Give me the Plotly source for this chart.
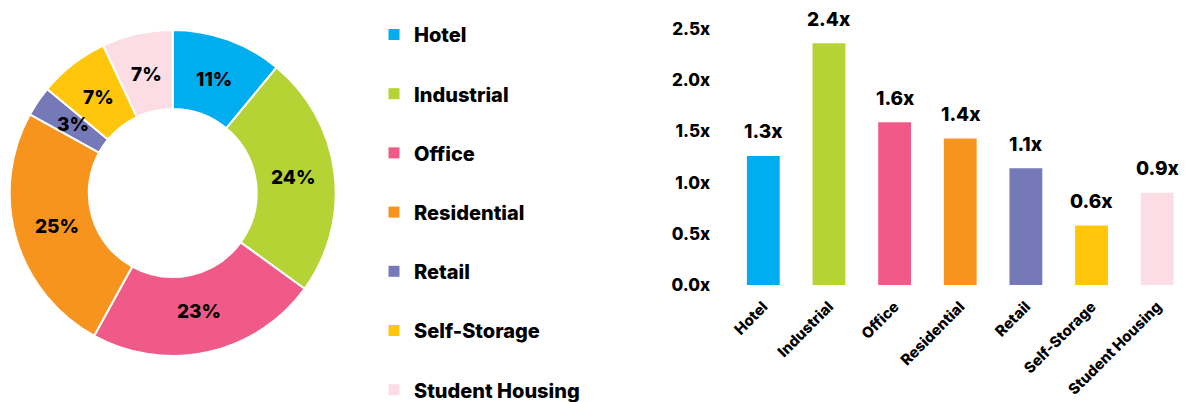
import math
import plotly.graph_objects as go

# Property sectors and their colours
sectors = ["Hotel", "Industrial", "Office", "Residential", "Retail",
           "Self-Storage", "Student Housing"]
colors = ["#00AEEF", "#B5D334", "#F05A88", "#F7941D", "#7679B8",
          "#FFC60B", "#FCDDE6"]

# Share of portfolio (%)
share_pct = [11, 24, 23, 25, 3, 7, 7]

# Multiple per sector
multiples = [1.26, 2.36, 1.59, 1.43, 1.14, 0.58, 0.90]

y_ticks = [0.0, 0.5, 1.0, 1.5, 2.0, 2.5]
y_tick_text = [f"{v:.1f}x" for v in y_ticks]

FONT = "Inter"
W = 800
FIG_W, FIG_H = 1194, 402

# Donut geometry (pixels)
PIE_CX, PIE_CY, PIE_R = 172.7, 193.0, 163.0
HOLE = 0.515
LABEL_R = 121.0  # radius at which the percentage labels sit

fig = go.Figure()

# Donut
fig.add_trace(go.Pie(
    labels=sectors,
    values=share_pct,
    hole=HOLE,
    sort=False,
    direction="clockwise",
    rotation=0,
    marker=dict(colors=colors, line=dict(color="white", width=2)),
    textinfo="none",
    domain=dict(
        x=[(PIE_CX - PIE_R) / FIG_W, (PIE_CX + PIE_R) / FIG_W],
        y=[(FIG_H - PIE_CY - PIE_R) / FIG_H, (FIG_H - PIE_CY + PIE_R) / FIG_H],
    ),
    showlegend=False,
    hoverinfo="label+percent",
))

# Percentage labels centred in each ring segment, horizontal
total = sum(share_pct)
cum = 0.0
for v in share_pct:
    ang = 2 * math.pi * (cum + v / 2) / total
    cum += v
    px = PIE_CX + LABEL_R * math.sin(ang)
    py = PIE_CY - LABEL_R * math.cos(ang)
    fig.add_annotation(
        x=px / FIG_W, y=1 - py / FIG_H, xref="paper", yref="paper",
        xanchor="center", yanchor="middle",
        text=f"{v}%", showarrow=False,
        font=dict(family=FONT, size=19, color="black", weight=W),
    )

# Bars
fig.add_trace(go.Bar(
    x=sectors,
    y=multiples,
    marker=dict(color=colors, line=dict(width=0)),
    showlegend=False,
    hovertemplate="%{x}: %{y:.1f}x<extra></extra>",
))

# Value labels above bars
for s, v in zip(sectors, multiples):
    fig.add_annotation(
        x=s, y=v, xref="x", yref="y",
        text=f"{v:.1f}x", showarrow=False, yshift=24,
        font=dict(family=FONT, size=19, color="black", weight=W),
    )

# Legend entries, one group each so the spacing can be set
for i, (s, c) in enumerate(zip(sectors, colors)):
    fig.add_trace(go.Scatter(
        x=[None], y=[None], mode="markers", name=s,
        marker=dict(symbol="square", size=11, color=c),
        legendgroup=f"g{i}", showlegend=True,
    ))

fig.update_layout(
    width=FIG_W, height=FIG_H,
    margin=dict(l=0, r=0, t=0, b=0, autoexpand=False),
    paper_bgcolor="white", plot_bgcolor="white",
    font=dict(family=FONT, color="black"),
    bargap=0.5,
    legend=dict(
        x=374 / FIG_W, xanchor="left",
        y=1 - 15 / FIG_H, yanchor="top",
        tracegroupgap=30.2,
        maxheight=600,
        font=dict(family=FONT, size=20, color="black", weight=W),
        bgcolor="rgba(0,0,0,0)",
        itemclick=False, itemdoubleclick=False,
    ),
    xaxis=dict(
        domain=[730.5 / FIG_W, 1190 / FIG_W],
        showgrid=False, zeroline=False, showline=False,
        tickangle=-45,
        ticks="outside", ticklen=6, tickcolor="rgba(0,0,0,0)",
        tickfont=dict(family=FONT, size=15, color="black", weight=W),
        automargin=False,
        fixedrange=True,
    ),
    yaxis=dict(
        domain=[(FIG_H - 285) / FIG_H, (FIG_H - 29) / FIG_H],
        range=[0, 2.5],
        tickmode="array",
        tickvals=y_ticks,
        ticktext=y_tick_text,
        showgrid=False, zeroline=False, showline=False,
        ticks="outside", ticklen=16, tickcolor="rgba(0,0,0,0)",
        tickfont=dict(family=FONT, size=17, color="black", weight=W),
        automargin=False,
        fixedrange=True,
    ),
)

fig.write_html("out.html")
